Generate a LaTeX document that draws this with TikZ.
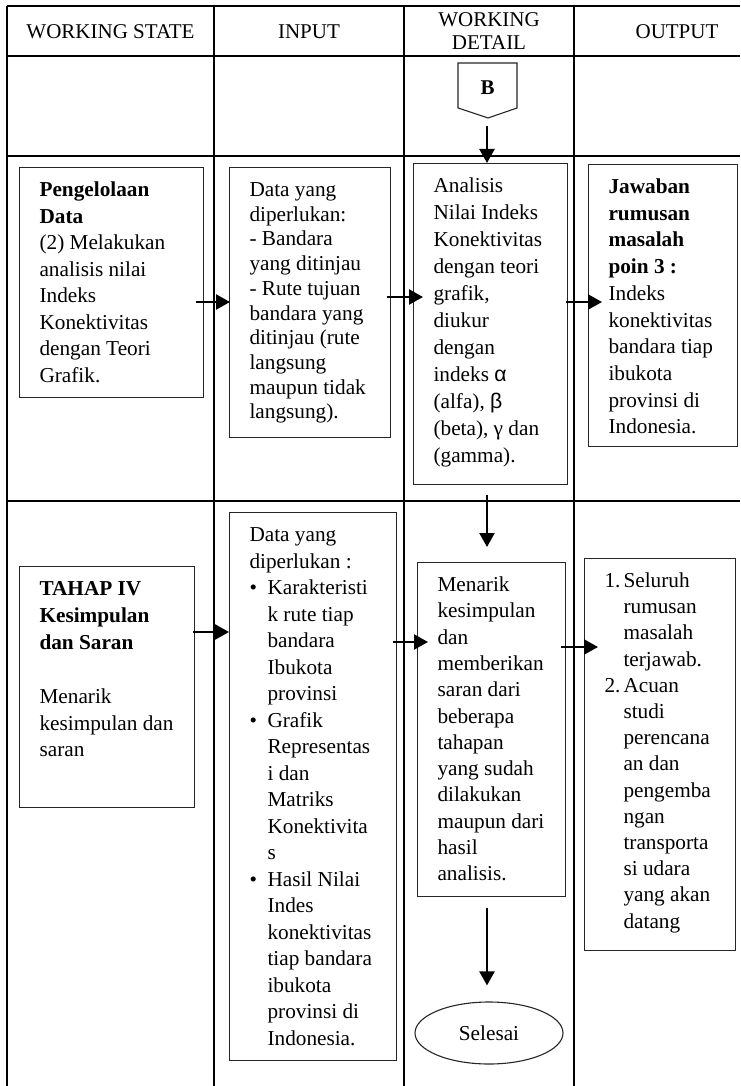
\documentclass[tikz,border=0pt]{standalone}
\usepackage{fontspec}
\setmainfont{Liberation Serif}
\newfontfamily\greeksans{Liberation Sans}
\usetikzlibrary{arrows.meta,calc,shapes.geometric}

% text block of a flow box: height, width, line pitch, contents
% (first baseline 29pt below the top)
\newcommand\flowtext[4]{\parbox[c][#1][t]{#2}{\fontsize{21.25pt}{#3}\selectfont
  \raggedright\rule{0pt}{29pt}#4}}
\newcommand\hang{\hspace*{18pt}}
\newcommand\bul{\makebox[18pt][l]{\textbullet}}
\newcommand\numi[1]{\makebox[19pt][l]{#1}}
\newcommand\numh{\hspace*{19pt}}

\begin{document}
\begin{tikzpicture}[x=1pt,y=-1pt,
  grid/.style={line width=2.6pt},
  flowbox/.style={draw=black!85, line width=1.1pt, inner xsep=20pt, inner ysep=0pt,
    anchor=north west, font=\fontsize{21.25pt}{26.4pt}\selectfont},
  headtext/.style={align=center, inner sep=0pt, font=\fontsize{21pt}{23pt}\selectfont},
  arr/.style={line width=2.3pt, -{Triangle[length=14pt,width=15pt]}}]
\useasboundingbox (0,0) rectangle (740,1086);

% table frame (open to the right and at the bottom)
\draw[grid] (7,6) -- (740,6);
\draw[grid] (7,56) -- (740,56);
\draw[grid] (7,156) -- (740,156);
\draw[grid] (7,501) -- (740,501);
\draw[grid] (7,6) -- (7,1086);
\draw[grid] (214,6) -- (214,1086);
\draw[grid] (404,6) -- (404,1086);
\draw[grid] (574,6) -- (574,1086);

% column headings
\node[headtext] (hstate) at (110.5,32) {WORKING STATE};
\node[headtext] (hinput) at (309,32) {INPUT};
\node[headtext] (hdetail) at (489,31) {WORKING\\DETAIL};
\node[headtext] (houtput) at (677,32) {OUTPUT};

% off-page connector B
\draw[draw=black!85, line width=1.1pt] (458,63) -- (517,63) -- (517,108) -- (488,118) -- (458,108) -- cycle;
\node[font=\fontsize{21pt}{23pt}\selectfont\bfseries, inner sep=0pt] (bmark) at (487.5,88) {B};
\coordinate (bout) at (487,126);

% row: Pengelolaan Data
\node[flowbox] (P1) at (19,167) {\flowtext{230pt}{144pt}{26.5pt}{%
\textbf{Pengelolaan}\\ \textbf{Data}\\ (2) Melakukan\\ analisis nilai\\ Indeks\\
Konektivitas\\ dengan Teori\\ Grafik.}};
\node[flowbox] (I1) at (229,167) {\flowtext{270pt}{121pt}{24.7pt}{%
Data yang\\ diperlukan:\\ - Bandara\\ \mbox{yang ditinjau}\\ \mbox{- Rute tujuan}\\
\mbox{bandara yang}\\ \mbox{ditinjau (rute}\\ langsung\\ \mbox{maupun tidak}\\ langsung).}};
\node[flowbox] (D1) at (413,163) {\flowtext{321pt}{114pt}{27pt}{%
Analisis\\ \mbox{Nilai Indeks}\\ Konektivitas\\ \mbox{dengan teori}\\ grafik,\\ diukur\\ dengan\\
indeks {\greeksans α}\\ (alfa), {\greeksans β}\\ \mbox{(beta), γ dan}\\ (gamma).}};
\node[flowbox] (O1) at (588,164) {\flowtext{282pt}{109pt}{26.7pt}{%
\textbf{Jawaban}\\ \textbf{rumusan}\\ \textbf{masalah}\\ \textbf{poin 3 :}\\ Indeks\\
konektivitas\\ \mbox{bandara tiap}\\ ibukota\\ \mbox{provinsi di}\\ Indonesia.}};

% row: Tahap IV
\node[flowbox] (P2) at (19,566) {\flowtext{241pt}{135pt}{26.9pt}{%
\textbf{TAHAP IV}\\ \textbf{Kesimpulan}\\ \mbox{\textbf{dan Saran}}\\[26.9pt] Menarik\\
\mbox{kesimpulan dan}\\ saran}};
\node[flowbox] (I2) at (229,512) {\flowtext{548pt}{127pt}{26.5pt}{%
Data yang\\ \mbox{diperlukan :}\\
\bul Karakteristi\\ \hang \mbox{k rute tiap}\\ \hang bandara\\ \hang Ibukota\\ \hang provinsi\\
\bul Grafik\\ \hang Representas\\ \hang i dan\\ \hang Matriks\\ \hang Konektivita\\ \hang s\\
\bul \mbox{Hasil Nilai}\\ \hang Indes\\ \hang konektivitas\\ \hang \mbox{tiap bandara}\\
\hang ibukota\\ \hang \mbox{provinsi di}\\ \hang Indonesia.}};
\node[flowbox] (D2) at (417,562) {\flowtext{334pt}{108pt}{26.3pt}{%
Menarik\\ kesimpulan\\ dan\\ memberikan\\ \mbox{saran dari}\\ beberapa\\ tahapan\\
\mbox{yang sudah}\\ dilakukan\\ \mbox{maupun dari}\\ hasil\\ analisis.}};
\node[flowbox] (O2) at (584,558) {\flowtext{392pt}{111pt}{26.2pt}{%
\numi{1.}Seluruh\\ \numh rumusan\\ \numh masalah\\ \numh terjawab.\\
\numi{2.}Acuan\\ \numh studi\\ \numh perencana\\ \numh \mbox{an dan}\\ \numh pengemba\\
\numh ngan\\ \numh transporta\\ \numh \mbox{si udara}\\ \numh \mbox{yang akan}\\ \numh datang}};

\node[draw=black!85, line width=1.1pt, ellipse, minimum width=148pt, minimum height=62pt,
  inner sep=0pt, font=\fontsize{21.25pt}{26.4pt}\selectfont] (end) at (489,1033) {Selesai};

% connectors
\draw[arr] (bout) -- (bout |- D1.north);
\draw[arr] ($(P1.east |- 0,302)+(-8,0)$) -- ($(I1.west |- 0,302)+(1,0)$);
\draw[arr] ($(I1.east |- 0,297)+(-4,0)$) -- ($(D1.west |- 0,297)+(10,0)$);
\draw[arr] ($(D1.east |- 0,302)+(-2,0)$) -- ($(O1.west |- 0,302)+(14,0)$);
\draw[arr] ($(bout |- D1.south)+(0,10)$) -- ($(bout |- D2.north)+(0,-15)$);
\draw[arr] ($(P2.east |- 0,632)+(-2,0)$) -- ($(I2.west |- 0,632)$);
\draw[arr] ($(I2.east |- 0,642)+(-4,0)$) -- ($(D2.west |- 0,642)+(11,0)$);
\draw[arr] ($(D2.east |- 0,647)+(-5,0)$) -- ($(O2.west |- 0,647)+(14,0)$);
\draw[arr] ($(bout |- D2.south)+(0,11)$) -- ($(bout |- end.north)+(0,-16)$);
\end{tikzpicture}
\end{document}
